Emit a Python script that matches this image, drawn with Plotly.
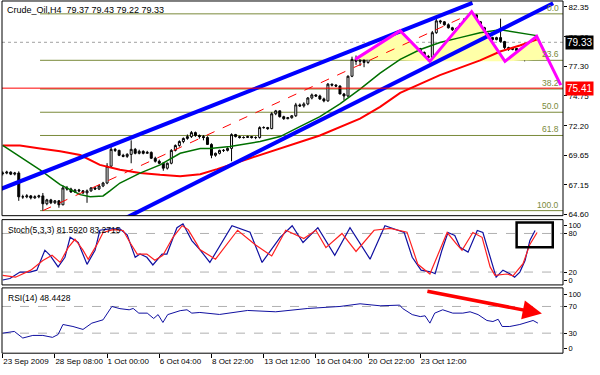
import plotly.graph_objects as go

# ---------------- data ----------------
title_text = "Crude_Oil,H4  79.37 79.43 79.22 79.33"
time_bars = [0, 13, 26, 39, 52, 65, 78, 91, 104]
time_labels = ["23 Sep 2009", "28 Sep 08:00", "1 Oct 00:00", "6 Oct 04:00", "8 Oct 22:00",
               "13 Oct 12:00", "16 Oct 04:00", "20 Oct 22:00", "23 Oct 12:00"]
price_ticks = [82.35, 79.80, 77.30, 74.75, 72.20, 69.65, 67.15, 64.60]

opens = [68.10,68.15,68.23,68.06,68.15,66.12,66.12,66.20,66.03,66.12,
         66.20,65.53,65.86,65.61,65.78,65.44,66.88,66.79,66.54,66.71,
         66.63,66.46,66.63,66.88,66.79,67.05,67.30,68.74,70.18,70.09,
         69.67,69.58,69.75,70.18,69.84,70.01,69.84,69.92,69.42,69.16,
         68.99,68.57,68.99,70.09,70.51,70.85,71.11,71.27,71.61,71.36,
         71.27,71.19,70.60,69.67,69.84,70.09,70.09,70.26,71.44,71.27,
         71.19,71.19,71.27,71.19,71.19,72.04,72.04,71.95,73.22,73.47,
         72.97,72.80,72.88,73.05,73.98,73.89,74.06,74.57,74.83,74.74,
         74.49,74.32,75.75,75.67,75.59,74.91,74.74,76.43,77.87,77.70,
         77.87,77.61,78.04,78.29,78.54,78.71,78.97,79.05,79.22,79.56,
         79.73,79.39,78.97,78.71,78.80,78.46,78.12,78.04,80.15,81.16,
         81.08,80.83,80.57,80.40,80.49,80.91,81.33,81.59,81.67,81.08,
         80.57,80.07,79.73,79.56,79.73,79.39,78.88,78.71,78.80,78.63,
         78.71,78.63,79.14,79.37]
highs = [68.30,68.35,68.30,68.25,68.30,66.30,66.35,66.28,66.25,66.30,
         66.45,65.95,65.95,65.85,65.85,67.10,67.05,66.90,66.80,66.80,
         66.70,66.75,66.95,66.98,67.15,67.40,69.00,70.50,70.30,70.15,
         69.80,69.85,70.95,70.30,70.15,70.10,70.05,70.00,69.55,69.30,
         69.10,69.05,70.20,70.60,70.95,71.20,71.45,71.75,71.70,71.45,
         71.40,71.30,70.70,69.90,70.15,70.20,70.35,71.55,71.50,71.35,
         71.30,71.35,71.30,71.30,72.15,72.15,72.10,73.35,73.55,73.50,
         73.05,72.95,73.10,74.15,74.10,74.20,74.65,74.95,74.90,74.85,
         74.60,75.85,75.80,75.75,75.65,75.00,76.50,78.10,78.20,78.05,
         77.95,78.20,78.40,78.60,78.80,79.05,79.15,79.30,79.70,80.35,
         79.85,79.45,79.10,78.90,78.85,78.55,78.25,80.30,81.35,81.25,
         81.15,80.95,80.65,80.60,80.95,81.40,81.70,81.76,81.70,81.15,
         80.65,80.15,79.80,79.80,81.35,79.45,78.95,78.90,78.85,78.80,
         78.75,79.20,79.30,79.43]
lows = [67.95,68.05,67.98,67.95,65.78,65.95,66.00,65.90,65.95,66.00,
        64.94,65.40,65.50,65.50,65.19,65.40,66.65,66.45,66.45,66.50,
        66.35,65.61,66.55,66.70,66.70,66.95,67.20,68.65,69.95,69.60,
        69.50,69.45,68.99,69.75,69.75,69.75,69.80,69.35,69.05,68.90,
        68.35,68.45,68.90,70.00,70.40,70.70,71.00,71.15,71.25,71.10,
        70.95,70.55,69.42,69.55,69.75,69.95,70.00,69.16,71.20,71.10,
        71.10,71.15,71.10,71.05,71.10,71.95,71.85,71.90,73.10,72.90,
        72.70,72.75,72.80,72.95,73.80,73.75,73.95,74.45,74.65,74.40,
        74.20,74.25,75.55,75.50,74.90,74.40,74.65,76.35,77.40,77.30,
        77.20,77.50,77.90,78.10,78.40,78.60,78.80,78.90,79.10,79.45,
        79.30,78.90,78.60,78.55,78.35,78.05,77.70,77.95,80.05,80.90,
        80.75,80.50,80.30,80.30,80.40,80.85,81.25,81.40,80.95,80.50,
        80.00,79.65,79.45,79.50,79.30,78.75,78.60,78.65,78.55,78.60,
        77.70,78.55,79.00,79.22]
closes = [68.15,68.23,68.06,68.15,66.12,66.12,66.20,66.03,66.12,66.20,
          65.53,65.86,65.61,65.78,65.44,66.88,66.79,66.54,66.71,66.63,
          66.46,66.63,66.88,66.79,67.05,67.30,68.74,70.18,70.09,69.67,
          69.58,69.75,70.18,69.84,70.01,69.84,69.92,69.42,69.16,68.99,
          68.57,68.99,70.09,70.51,70.85,71.11,71.27,71.61,71.36,71.27,
          71.19,70.60,69.67,69.84,70.09,70.09,70.26,71.44,71.27,71.19,
          71.19,71.27,71.19,71.19,72.04,72.04,71.95,73.22,73.47,72.97,
          72.80,72.88,73.05,73.98,73.89,74.06,74.57,74.83,74.74,74.49,
          74.32,75.75,75.67,75.59,74.91,74.74,76.43,77.87,77.70,77.87,
          77.61,78.04,78.29,78.54,78.71,78.97,79.05,79.22,79.56,79.73,
          79.39,78.97,78.71,78.80,78.46,78.12,78.04,80.15,81.16,81.08,
          80.83,80.57,80.40,80.49,80.91,81.33,81.59,81.67,81.08,80.57,
          80.07,79.73,79.56,79.73,79.39,78.88,78.71,78.80,78.63,78.71,
          78.63,79.14,79.22,79.33]

ma_fast_bars = [0,4.3,9.3,14.3,19.3,21.8,25,26.7,29.2,34.2,39.2,44.2,49.2,51.6,56.6,64.1,69.1,74.0,79.0,84.0,89.0,94.0,99.0,104.0,108.9,113.9,118.9,123.9,128.8,133]
ma_fast_vals = [70.51,69.58,68.43,67.16,66.31,66.12,66.20,66.63,67.30,68.15,68.85,69.84,70.26,70.26,70.43,70.85,71.27,72.12,72.97,74.06,75.33,76.69,77.87,78.71,79.31,79.73,80.15,80.40,80.15,79.90]
ma_slow_bars = [0,4.3,9.3,14.3,19.3,24.2,29.2,34.2,39.2,44.2,49.2,53.4,61.6,69.1,79.0,89.0,94.0,99.0,108.9,118.9,123.9,128.8,133]
ma_slow_vals = [70.51,70.51,70.26,70.01,69.69,68.85,68.43,68.15,68.00,67.89,68.06,68.49,69.42,70.26,71.36,72.80,73.81,75.00,76.52,77.78,78.54,79.05,79.56]

fib_high, fib_low = 81.76, 64.94
fib_start_bar, fib_high_bar, fib_low_bar = 9.3, 116.5, 10
fib_ratios = [0.0, 0.236, 0.382, 0.5, 0.618, 1.0]
fib_labels = ["0.0", "23.6", "38.2", "50.0", "61.8", "100.0"]

chan_up_bars, chan_up_vals = [-0.5, 117.0], [66.79, 82.69]
chan_lo_bars, chan_lo_vals = [30.0, 137.1], [64.20, 82.66]
zig_bars = [87.8, 99.0, 106.4, 116.8, 125.1, 133.0, 139.0]
zig_vals = [77.87, 80.32, 77.70, 81.95, 77.70, 79.84, 75.67]
tri_bars = [87.8, 99.0, 106.4, None, 106.4, 116.8, 125.1, None, 125.1, 133.0, 136.0]
tri_vals = [77.87, 80.32, 77.70, None, 77.70, 81.95, 77.70, None, 77.70, 79.84, 77.87]
last_close, hline_price = 79.33, 75.41

stoch_k_bars = [0,1.8,4.3,6.8,8.5,10.5,11.8,13.8,15.5,16.8,18.8,21,23,24.2,26.7,29.2,31,33,34.2,35.9,37.4,39.7,40.9,43.4,44.9,47.1,49.1,51.6,57.1,61.6,64.6,69.1,72.1,74.8,78.5,82.7,86.5,91.5,95.2,99,100,102,104.2,106.8,107.7,109.4,110.9,112.6,113.9,115.9,118.2,119.6,121.4,122.9,124.6,126.3,127.5,128.8,130.1,131.3,132.6]
stoch_k_vals = [7.7,10,20,20,23,54,46,28,43,74,66,32,54,85,87,87,78,43,48,43,31,48,48,89,95,69,55,35,92,82,35,74,92,66,89,46,89,40,92,84,81.5,43,23,20,17.4,54,81.5,77,58.5,51,84.6,81.5,43,12,23,17.4,12,20,38,69,84.6]
stoch_d_bars = [0,3.2,7,10,12.3,14.3,16.3,18,20,21.3,23.5,25,27.5,30,31.7,33.5,35.9,37.9,39.9,42.4,44.7,46.2,48.4,49.1,53,58.5,63,67,70.5,75,78,80.5,84.5,88,92.5,96.5,100.7,103.4,106.4,108.4,110.7,113.1,114.4,117.1,119.4,121.4,122.6,125.6,127.1,129.6,131.3,133.1]
stoch_d_vals = [15,12,23,38,46,35,58,71,54,40,63,81.5,86,84.6,66,48,48,38.5,46,74,92,86,63,55,40,85,62,45,85,72,85,58,80,52,85,88,82,32,17,48,81.5,63,54,81.5,74,28,15,17,14,33,63,81.5]
stoch_k_last, stoch_d_last = 81.5920, 83.2715

rsi_bars = [0,2.9,5,7.5,10,12.4,13.8,15,17.5,20,22.2,25,27.2,29.2,31.5,32.5,33.9,36,37.6,38.7,39.9,41.1,44.2,45.9,47.1,49.1,54,61,68,76,84,89,94,98.9,99.6,102,104,105.2,106.4,107.6,109.6,112.1,114.6,116.4,118.4,120.6,122.1,123.4,124.4,126.3,128.8,130.8,132.1,133.3]
rsi_vals = [30,32.6,22.7,26.6,26.6,23.7,28,43,40,35.6,45,50,70,66.7,65,67,60,60,52,57.8,46,57.8,63.7,65,60,61,58,64,62,67,70,74,71,72,67,57.8,54.8,56,45,60,65,60,60,62,57.8,49,47.4,50.8,40,40,43,46,49,45]
rsi_last = 48.4428

# ---------------- helpers (pixel layout) ----------------
W, H = 600, 375
def px(x): return x / W
def py(y): return 1 - y / H
X0_PX, X1_PX = 2, 563
BAR0_PX, BAR_PX = 2.7, 4.015
xr = [(X0_PX - BAR0_PX) / BAR_PX, (X1_PX - BAR0_PX) / BAR_PX]

OLIVE = "#7A8A3A"
FONT = "Liberation Sans, Arial, sans-serif"

fig = go.Figure()

# yellow triangles
fig.add_trace(go.Scatter(x=tri_bars, y=tri_vals, fill="toself", fillcolor="#FFFFA8",
                         line=dict(width=0), mode="lines", hoverinfo="skip", connectgaps=False))

# candles
fig.add_trace(go.Candlestick(x=list(range(len(closes))), open=opens, high=highs, low=lows, close=closes,
                             increasing=dict(line=dict(color="black", width=1), fillcolor="white"),
                             decreasing=dict(line=dict(color="black", width=1), fillcolor="black"),
                             whiskerwidth=0, hoverinfo="skip"))
# MAs
fig.add_trace(go.Scatter(x=ma_slow_bars, y=ma_slow_vals, mode="lines", line=dict(color="#FF0000", width=2), hoverinfo="skip"))
fig.add_trace(go.Scatter(x=ma_fast_bars, y=ma_fast_vals, mode="lines", line=dict(color="#007000", width=1.5), hoverinfo="skip"))
# fib trend line
fig.add_trace(go.Scatter(x=[fib_low_bar, fib_high_bar], y=[fib_low, fib_high], mode="lines",
                         line=dict(color="#FF0000", width=1, dash="dash"), hoverinfo="skip"))
# channel
fig.add_trace(go.Scatter(x=chan_up_bars, y=chan_up_vals, mode="lines", line=dict(color="#0000FF", width=4), hoverinfo="skip"))
fig.add_trace(go.Scatter(x=chan_lo_bars, y=chan_lo_vals, mode="lines", line=dict(color="#0000FF", width=4), hoverinfo="skip"))
# zigzag
fig.add_trace(go.Scatter(x=zig_bars, y=zig_vals, mode="lines", line=dict(color="#FF00FF", width=3), hoverinfo="skip"))

# stochastic
fig.add_trace(go.Scatter(x=stoch_k_bars, y=stoch_k_vals, yaxis="y2", mode="lines", line=dict(color="#1010A0", width=1.2), hoverinfo="skip"))
fig.add_trace(go.Scatter(x=stoch_d_bars, y=stoch_d_vals, yaxis="y2", mode="lines", line=dict(color="#FF2020", width=1.2), hoverinfo="skip"))
# RSI
fig.add_trace(go.Scatter(x=rsi_bars, y=rsi_vals, yaxis="y3", mode="lines", line=dict(color="#1010A0", width=1), hoverinfo="skip"))

shapes = []
rng = fib_high - fib_low
for r in fib_ratios:
    lvl = fib_high - r * rng
    shapes.append(dict(type="line", xref="x", yref="y", x0=fib_start_bar, x1=xr[1], y0=lvl, y1=lvl,
                       line=dict(color=OLIVE, width=1), layer="below"))
shapes.append(dict(type="line", xref="paper", yref="y", x0=px(X0_PX), x1=px(X1_PX), y0=hline_price, y1=hline_price,
                   line=dict(color="#FF0000", width=1)))
shapes.append(dict(type="line", xref="paper", yref="y", x0=px(X0_PX), x1=px(X1_PX), y0=last_close, y1=last_close,
                   line=dict(color="#A0A0A0", width=1, dash="dot"), layer="below"))
for lv in [20, 80]:
    shapes.append(dict(type="line", xref="paper", yref="y2", x0=px(X0_PX), x1=px(X1_PX), y0=lv, y1=lv,
                       line=dict(color="#B0B0B0", width=1, dash="dash"), layer="below"))
for lv in [30, 70]:
    shapes.append(dict(type="line", xref="paper", yref="y3", x0=px(X0_PX), x1=px(X1_PX), y0=lv, y1=lv,
                       line=dict(color="#B0B0B0", width=1, dash="dash"), layer="below"))
for (t, b) in [(1, 218), (222, 288), (291, 357)]:
    shapes.append(dict(type="rect", xref="paper", yref="paper", x0=px(X0_PX), x1=px(X1_PX), y0=py(b), y1=py(t),
                       line=dict(color="black", width=1)))
shapes.append(dict(type="rect", xref="x", yref="y2", x0=128.0, x1=137.0, y0=58.5, y1=96.9,
                   line=dict(color="black", width=2.5)))

annotations = []
annotations.append(dict(xref="paper", yref="paper", x=px(5), y=py(10), text=title_text, showarrow=False,
                        xanchor="left", yanchor="middle", font=dict(size=9, color="black", family=FONT)))
for r, lab in zip(fib_ratios, fib_labels):
    lvl = fib_high - r * rng
    annotations.append(dict(xref="paper", yref="y", x=px(561), y=lvl, text=lab, showarrow=False,
                            xanchor="right", yanchor="bottom", yshift=-1,
                            font=dict(size=8.5, color=OLIVE, family=FONT)))
annotations.append(dict(xref="paper", yref="y", x=px(565), y=last_close, text="79.33", showarrow=False,
                        xanchor="left", yanchor="middle", bgcolor="black", borderpad=1,
                        font=dict(size=10, color="white", family=FONT)))
annotations.append(dict(xref="paper", yref="y", x=px(565), y=hline_price, text="75.41", showarrow=False,
                        xanchor="left", yanchor="middle", bgcolor="#FF0000", borderpad=1,
                        font=dict(size=10, color="white", family=FONT)))
annotations.append(dict(xref="paper", yref="paper", x=px(6), y=py(232),
                        text=f"Stoch(5,3,3) {stoch_k_last:.4f} {stoch_d_last:.4f}", showarrow=False,
                        xanchor="left", yanchor="middle", font=dict(size=8.5, color="black", family=FONT)))
annotations.append(dict(xref="paper", yref="paper", x=px(6), y=py(301),
                        text=f"RSI(14) {rsi_last:.4f}", showarrow=False,
                        xanchor="left", yanchor="middle", font=dict(size=8.5, color="black", family=FONT)))
annotations.append(dict(xref="x", yref="y3", axref="x", ayref="y3", x=134.3, y=59.3, ax=105.4, ay=93.3,
                        text="", showarrow=True, arrowhead=2, arrowsize=1.1, arrowwidth=3.5, arrowcolor="#FF0000"))

axis_common = dict(showgrid=False, zeroline=False, fixedrange=True, ticks="outside", ticklen=3,
                   tickcolor="black", tickfont=dict(size=8, color="black", family=FONT), showline=False)
small_ticks = {**axis_common, "tickfont": dict(size=7.5, color="black", family=FONT)}

fig.update_layout(
    width=W, height=H, margin=dict(l=0, r=0, t=0, b=0),
    paper_bgcolor="white", plot_bgcolor="white", showlegend=False,
    xaxis=dict(domain=[px(X0_PX), px(X1_PX)], range=xr, anchor="y3", rangeslider=dict(visible=False),
               tickvals=time_bars, ticktext=time_labels, ticklabelposition="outside right", tickangle=0,
               **{**axis_common, "ticklen": 4}),
    yaxis=dict(domain=[py(218), py(1)], range=[64.51, 82.86], side="right", anchor="x",
               tickvals=price_ticks, ticktext=[f"{v:.2f}" for v in price_ticks], **axis_common),
    yaxis2=dict(domain=[py(288), py(222)], range=[0, 101.5], side="right", anchor="x",
                tickvals=[92.3, 80, 20, 6.5], ticktext=["100", "80", "20", "0"], **small_ticks),
    yaxis3=dict(domain=[py(357), py(291)], range=[0, 97.8], side="right", anchor="x",
                tickvals=[87.4, 70, 30, 7.4], ticktext=["100", "70", "30", "0"], **small_ticks),
    shapes=shapes, annotations=annotations,
)
fig.write_html("out.html")
